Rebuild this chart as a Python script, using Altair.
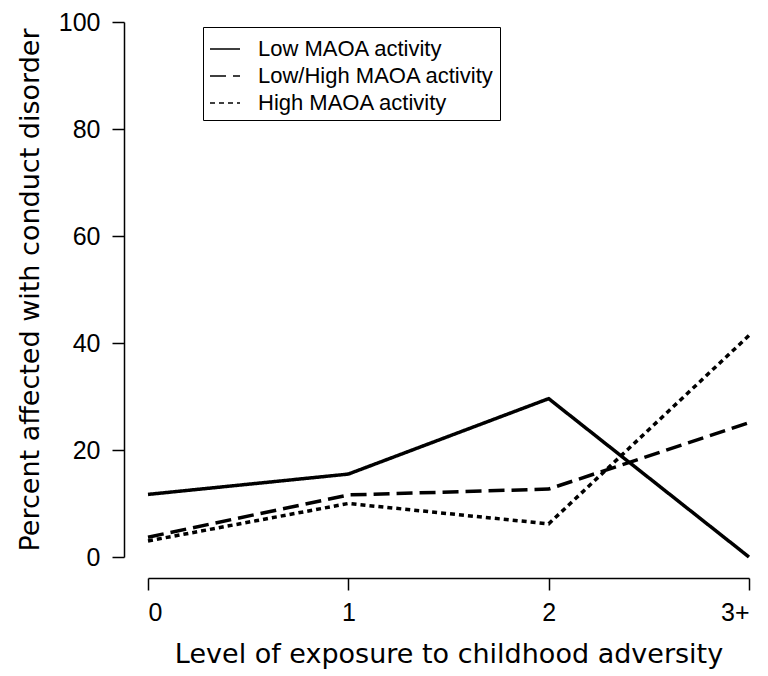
import altair as alt
import pandas as pd

# ---- data ----
levels = [0, 1, 2, 3]
level_labels = ["0", "1", "2", "3+"]
series = ["Low MAOA activity", "Low/High MAOA activity", "High MAOA activity"]
low = [11.7, 15.5, 29.6, 0.0]
low_high = [3.7, 11.6, 12.7, 25.1]
high = [3.0, 10.0, 6.2, 41.4]
y_ticks = [0, 20, 40, 60, 80, 100]

rows = []
for name, vals in zip(series, [low, low_high, high]):
    for x, v in zip(levels, vals):
        rows.append({"level": x, "pct": v, "group": name})
df = pd.DataFrame(rows)

FONT = "Liberation Sans"
TITLE_FONT = "DejaVu Sans"
label_expr = "[" + ",".join("'" + s + "'" for s in level_labels) + "][datum.value]"

chart = (
    alt.Chart(df)
    .mark_line(color="black", strokeWidth=3.5, strokeCap="butt", strokeJoin="miter")
    .encode(
        x=alt.X(
            "level:Q",
            scale=alt.Scale(domain=[0, 3], nice=False, zero=False),
            axis=alt.Axis(
                values=levels,
                labelExpr=label_expr,
                title="Level of exposure to childhood adversity",
                offset=21,
                labelPadding=10,
                titlePadding=16,
                titleFontSize=27,
            ),
        ),
        y=alt.Y(
            "pct:Q",
            scale=alt.Scale(domain=[0, 100], nice=False),
            axis=alt.Axis(
                values=y_ticks,
                title="Percent affected with conduct disorder",
                offset=24,
                labelPadding=12,
                titlePadding=14,
                titleFontSize=27,
            ),
        ),
        strokeDash=alt.StrokeDash(
            "group:N",
            scale=alt.Scale(domain=series, range=[[1, 0], [16, 7], [5, 4]]),
            legend=alt.Legend(
                title=None,
                orient="none",
                legendX=55,
                legendY=5,
                symbolType="stroke",
                symbolSize=900,
                symbolStrokeWidth=1.5,
                symbolStrokeColor="black",
                labelFont=FONT,
                labelFontSize=22,
                labelColor="black",
                labelOffset=17,
                labelLimit=600,
                rowPadding=-7,
                padding=6,
                strokeColor="black",
                fillColor="white",
            ),
        ),
    )
    .properties(
        width=601,
        height=535,
        autosize=alt.AutoSizeParams(type="none"),
        padding={"left": 140, "top": 14, "right": 10, "bottom": 115},
    )
    .configure_view(stroke=None)
    .configure_axis(
        grid=False,
        domainColor="black",
        domainWidth=1.5,
        tickColor="black",
        tickWidth=1.5,
        tickSize=12,
        labelFont=FONT,
        labelFontSize=25,
        labelColor="black",
        titleFont=TITLE_FONT,
        titleFontWeight="normal",
        titleColor="black",
    )
)

chart.save("out.html", embed_options={"renderer": "svg", "actions": False})
